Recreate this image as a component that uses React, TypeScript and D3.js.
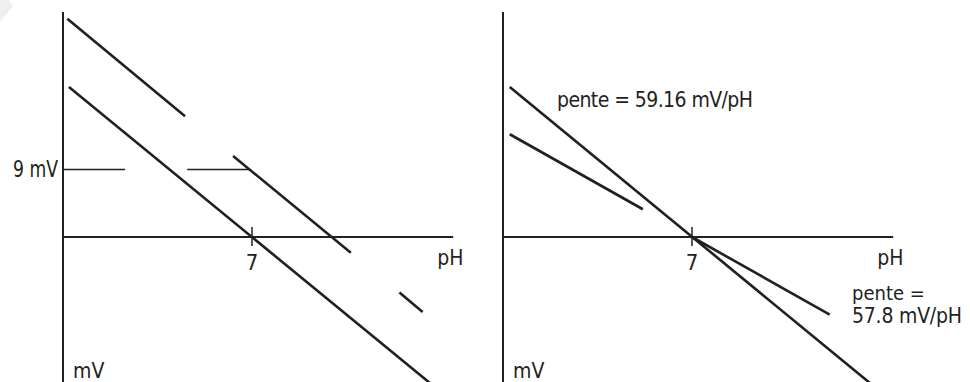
import React from 'react';
import * as d3 from 'd3';

// pH / mV schematic, two panels: offset (left) and slope (right)
const PH_DOMAIN = [0, 14.5];
const MV_DOMAIN = [-20, 30];
const PH_TICKS = [7];
const OFFSET_MV = 9;

// left panel
const idealLine = [
  { ph: 0.22, mv: 20.0 },
  { ph: 13.6, mv: -19.5 },
];
const offsetSegments = [
  [{ ph: 0.16, mv: 29.1 }, { ph: 4.52, mv: 16.1 }],
  [{ ph: 6.3, mv: 10.8 }, { ph: 10.66, mv: -2.1 }],
  [{ ph: 12.46, mv: -7.4 }, { ph: 13.32, mv: -10.0 }],
];
const offsetRefSegments = [
  [0, 2.3],
  [4.6, 6.95],
];

// right panel
const nernstLine = [
  { ph: 0.25, mv: 20.0 },
  { ph: 13.6, mv: -19.5 },
];
const realSegments = [
  [{ ph: 0.25, mv: 13.7 }, { ph: 5.18, mv: 3.7 }],
  [{ ph: 7, mv: 0 }, { ph: 12.1, mv: -10.35 }],
];
const slopeLabels = ['pente = 59.16 mV/pH', 'pente =', '57.8 mV/pH'];

const W = 970;
const H = 382;
const INK = '#231f20';
const FONT = '"Liberation Sans Narrow", "Arial Narrow", "DejaVu Sans Condensed", sans-serif';

type Pt = { ph: number; mv: number };

function Panel({ x0, children }: { x0: number; children: (x: any, y: any, line: any) => React.ReactNode }) {
  const x = d3.scaleLinear().domain(PH_DOMAIN).range([x0, x0 + 391.5]);
  const y = d3.scaleLinear().domain(MV_DOMAIN).range([387, 12]);
  const line = d3.line<Pt>().x(d => x(d.ph)).y(d => y(d.mv));

  return (
    <g>
      {/* axes */}
      <line x1={x0} x2={x0} y1={y(30)} y2={H + 5} stroke={INK} strokeWidth={2} />
      <line x1={x0} x2={x(14.45)} y1={y(0)} y2={y(0)} stroke={INK} strokeWidth={2} />
      {PH_TICKS.map(t => (
        <g key={t}>
          <line x1={x(t)} x2={x(t)} y1={y(0) - 10} y2={y(0) + 9} stroke={INK} strokeWidth={1.5} />
          <text x={x(t)} y={270} textAnchor="middle" fontSize={22} fill={INK} fontFamily={FONT}>
            {t}
          </text>
        </g>
      ))}
      <text x={x(14.45) - 16} y={265} fontSize={21} fill={INK} fontFamily={FONT}>pH</text>
      <text x={x0 + 10} y={378} fontSize={21} fill={INK} fontFamily={FONT}>mV</text>
      {children(x, y, line)}
    </g>
  );
}

export default function App() {
  return (
    <svg width={W} height={H} style={{ position: 'absolute', left: 0, top: 0, background: '#fff' }}>
      {/* faint corner mark of the scan */}
      <polygon points="0,0 9,0 13,6 0,22" fill="#efefef" />
      <Panel x0={63}>
        {(x, y, line) => (
          <g>
            {offsetRefSegments.map(([a, b], i) => (
              <line key={i} x1={x(a)} x2={x(b)} y1={y(OFFSET_MV)} y2={y(OFFSET_MV)} stroke={INK} strokeWidth={1.3} />
            ))}
            <text x={58} y={177} textAnchor="end" fontSize={23} fill={INK} fontFamily={FONT} textLength={45} lengthAdjust="spacingAndGlyphs">
              {`${OFFSET_MV} mV`}
            </text>
            <path d={line(idealLine)} fill="none" stroke={INK} strokeWidth={2.6} />
            {offsetSegments.map((s, i) => (
              <path key={i} d={line(s)} fill="none" stroke={INK} strokeWidth={2.6} />
            ))}
          </g>
        )}
      </Panel>
      <Panel x0={503}>
        {(x, y, line) => (
          <g>
            <path d={line(nernstLine)} fill="none" stroke={INK} strokeWidth={2.6} />
            {realSegments.map((s, i) => (
              <path key={i} d={line(s)} fill="none" stroke={INK} strokeWidth={2.6} />
            ))}
            <text x={557} y={107} fontSize={21} fill={INK} fontFamily={FONT} textLength={196} lengthAdjust="spacing">
              {slopeLabels[0]}
            </text>
            <text x={852} y={300} fontSize={20} fill={INK} fontFamily={FONT}>{slopeLabels[1]}</text>
            <text x={852} y={323} fontSize={21} fill={INK} fontFamily={FONT} textLength={110} lengthAdjust="spacing">
              {slopeLabels[2]}
            </text>
          </g>
        )}
      </Panel>
    </svg>
  );
}
